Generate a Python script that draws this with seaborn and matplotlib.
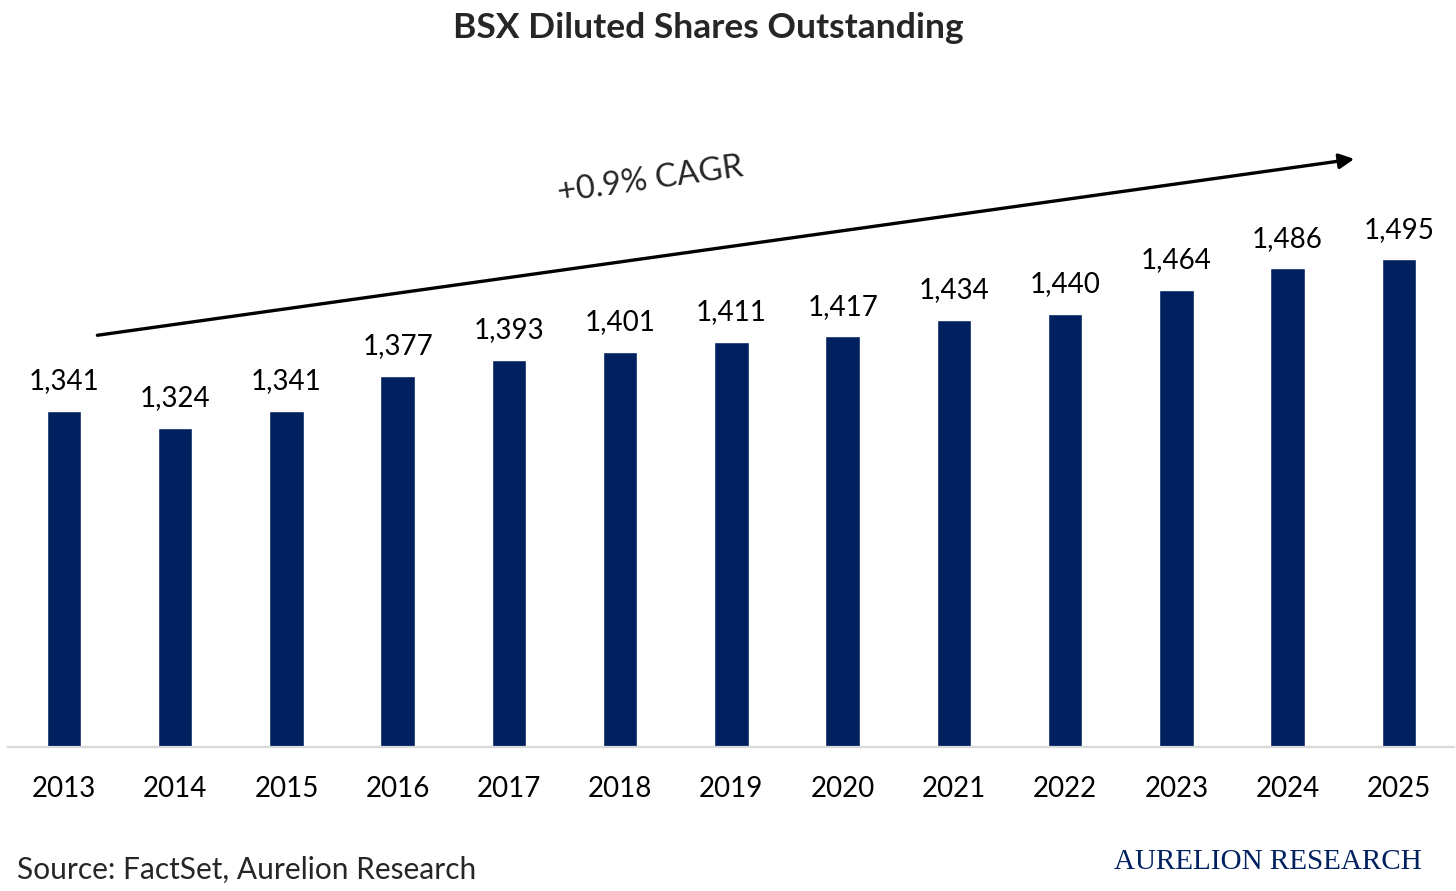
import pandas as pd
import seaborn as sns
import matplotlib.pyplot as plt

# dados do grafico
anos = ['2013', '2014', '2015', '2016', '2017', '2018', '2019',
        '2020', '2021', '2022', '2023', '2024', '2025']
acoes = [1341, 1324, 1341, 1377, 1393, 1401, 1411,
         1417, 1434, 1440, 1464, 1486, 1495]
titulo = 'BSX Diluted Shares Outstanding'
cagr_txt = '+0.9% CAGR'
fonte_txt = 'Source: FactSet, Aurelion Research'
marca_txt = 'AURELION RESEARCH'

df = pd.DataFrame({'ano': anos, 'acoes': acoes})

sns.set_style('white')
plt.rcParams['font.family'] = ['Lato', 'DejaVu Sans']

azul = '#002060'

fig = plt.figure(figsize=(14.56, 8.91), dpi=100)
ax = fig.add_axes([8.4 / 1456, 1 - 747 / 891, 1446 / 1456, 647 / 891])

sns.barplot(data=df, x='ano', y='acoes', color=azul, saturation=1,
            width=0.31, ax=ax)

ax.set_ylim(1000, 1000 + 647 / 0.985)
ax.set_xlim(-0.5, len(anos) - 0.5)

# rotulos acima das barras
ax.bar_label(ax.containers[0], labels=[f'{v:,}' for v in acoes],
             padding=12, fontsize=20, color='black')

# eixos
for s in ['top', 'right', 'left']:
    ax.spines[s].set_visible(False)
ax.spines['bottom'].set_color('#d9d9d9')
ax.spines['bottom'].set_linewidth(1.6)
ax.set_yticks([])
ax.set_xlabel('')
ax.set_ylabel('')
ax.tick_params(axis='x', length=0, pad=21, labelsize=20, labelcolor='black')

# seta de CAGR
ax.annotate('', xy=(11.6, 1597), xytext=(0.3, 1418),
            arrowprops=dict(arrowstyle='-|>,head_length=0.9,head_width=0.45',
                            color='black', lw=2.4, shrinkA=0, shrinkB=0))
ax.text(5.27, 1576, cagr_txt, fontsize=23.5, rotation=8,
        ha='center', va='center', rotation_mode='anchor')

# titulo e rodape
fig.text(708 / 1456, 1 - 28 / 891, titulo, fontsize=25.5, fontweight='bold',
         ha='center', va='center')
fig.text(17 / 1456, 1 - 879 / 891, fonte_txt, fontsize=21.5,
         ha='left', va='baseline')
fig.text(1422 / 1456, 1 - 869 / 891, marca_txt, fontsize=21, color=azul,
         family=['Liberation Serif', 'DejaVu Serif'], ha='right', va='baseline')

fig.savefig('out.png', dpi=100)
